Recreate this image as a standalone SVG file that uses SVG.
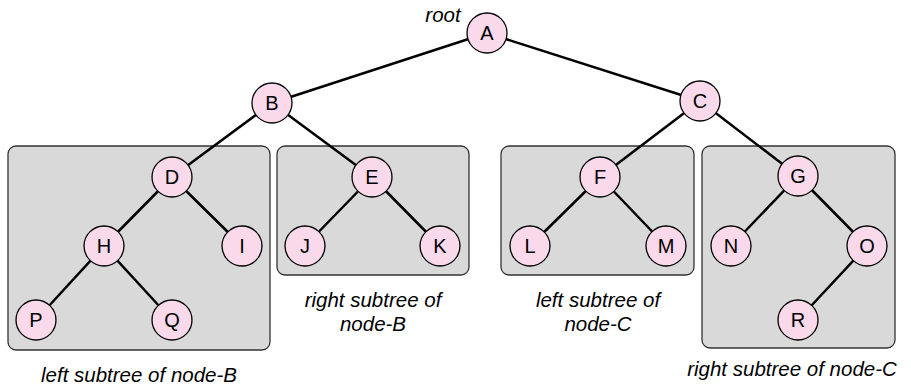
<svg xmlns="http://www.w3.org/2000/svg" width="911" height="386" viewBox="0 0 911 386">
<style>
.box{fill:#d9d9d9;stroke:#333;stroke-width:1.3}
.edge{stroke:#000;stroke-width:2.5;fill:none}
.node circle{fill:#f9d9ea;stroke:#000;stroke-width:1.3}
.node text{font-family:"Liberation Sans",Arial,sans-serif;font-size:20px;text-anchor:middle;dominant-baseline:central;fill:#000}
.lbl{font-family:"Liberation Sans",Arial,sans-serif;font-size:20.5px;font-style:italic;text-anchor:middle;fill:#000}
</style>
<g id="boxes">
<rect class="box" x="8" y="146" width="262" height="204" rx="8"/>
<rect class="box" x="277" y="146" width="192" height="129" rx="8"/>
<rect class="box" x="501" y="146" width="193" height="129" rx="8"/>
<rect class="box" x="702" y="146" width="193" height="202" rx="8"/>
</g>
<g id="connectors">
<line class="edge" x1="487" y1="33" x2="272" y2="103"/>
<line class="edge" x1="487" y1="33" x2="700" y2="101"/>
<line class="edge" x1="272" y1="103" x2="172" y2="177"/>
<line class="edge" x1="272" y1="103" x2="372" y2="177"/>
<line class="edge" x1="700" y1="101" x2="600" y2="177"/>
<line class="edge" x1="700" y1="101" x2="798" y2="176"/>
<line class="edge" x1="172" y1="177" x2="104" y2="246"/>
<line class="edge" x1="172" y1="177" x2="242" y2="246"/>
<line class="edge" x1="104" y1="246" x2="36" y2="320"/>
<line class="edge" x1="104" y1="246" x2="172" y2="320"/>
<line class="edge" x1="372" y1="177" x2="305" y2="246"/>
<line class="edge" x1="372" y1="177" x2="440" y2="246"/>
<line class="edge" x1="600" y1="177" x2="530" y2="246"/>
<line class="edge" x1="600" y1="177" x2="666" y2="246"/>
<line class="edge" x1="798" y1="176" x2="731" y2="246"/>
<line class="edge" x1="798" y1="176" x2="867" y2="246"/>
<line class="edge" x1="867" y1="246" x2="798" y2="320"/>
</g>
<g id="node-A" class="node"><circle cx="487" cy="33" r="20"/><text x="487" y="33">A</text></g>
<g id="node-B" class="node"><circle cx="272" cy="103" r="20"/><text x="272" y="103">B</text></g>
<g id="node-C" class="node"><circle cx="700" cy="101" r="20"/><text x="700" y="101">C</text></g>
<g id="node-D" class="node"><circle cx="172" cy="177" r="20"/><text x="172" y="177">D</text></g>
<g id="node-E" class="node"><circle cx="372" cy="177" r="20"/><text x="372" y="177">E</text></g>
<g id="node-F" class="node"><circle cx="600" cy="177" r="20"/><text x="600" y="177">F</text></g>
<g id="node-G" class="node"><circle cx="798" cy="176" r="20"/><text x="798" y="176">G</text></g>
<g id="node-H" class="node"><circle cx="104" cy="246" r="20"/><text x="104" y="246">H</text></g>
<g id="node-I" class="node"><circle cx="242" cy="246" r="20"/><text x="242" y="246">I</text></g>
<g id="node-J" class="node"><circle cx="305" cy="246" r="20"/><text x="305" y="246">J</text></g>
<g id="node-K" class="node"><circle cx="440" cy="246" r="20"/><text x="440" y="246">K</text></g>
<g id="node-L" class="node"><circle cx="530" cy="246" r="20"/><text x="530" y="246">L</text></g>
<g id="node-M" class="node"><circle cx="666" cy="246" r="20"/><text x="666" y="246">M</text></g>
<g id="node-N" class="node"><circle cx="731" cy="246" r="20"/><text x="731" y="246">N</text></g>
<g id="node-O" class="node"><circle cx="867" cy="246" r="20"/><text x="867" y="246">O</text></g>
<g id="node-P" class="node"><circle cx="36" cy="320" r="20"/><text x="36" y="320">P</text></g>
<g id="node-Q" class="node"><circle cx="172" cy="320" r="20"/><text x="172" y="320">Q</text></g>
<g id="node-R" class="node"><circle cx="798" cy="320" r="20"/><text x="798" y="320">R</text></g>
<g id="labels">
<text class="lbl" x="443" y="22">root</text>
<text class="lbl" x="139" y="382">left subtree of node-B</text>
<text class="lbl" x="373" y="307">right subtree of</text>
<text class="lbl" x="373" y="331">node-B</text>
<text class="lbl" x="598" y="307">left subtree of</text>
<text class="lbl" x="598" y="331">node-C</text>
<text class="lbl" x="792" y="376">right subtree of node-C</text>
</g>
</svg>
